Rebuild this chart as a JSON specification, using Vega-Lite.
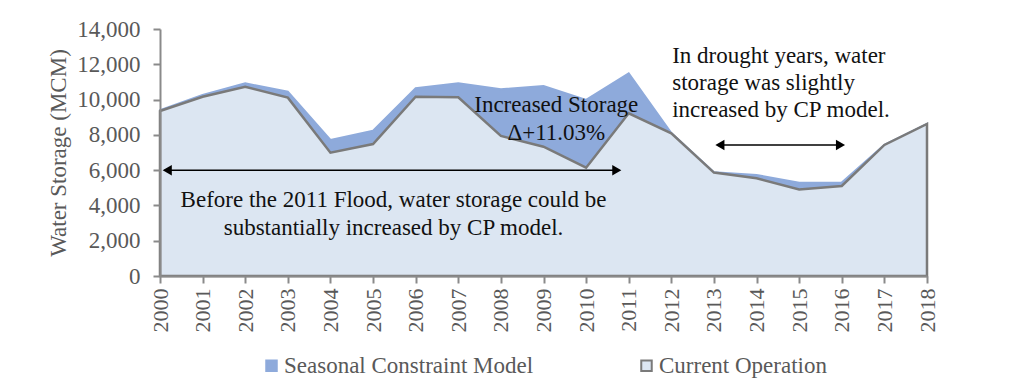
{
  "$schema": "https://vega.github.io/schema/vega-lite/v6.json",
  "width": 767,
  "height": 247,
  "autosize": {"type": "none"},
  "padding": {"left": 160, "top": 29, "right": 97, "bottom": 115},
  "background": "white",
  "config": {
    "view": {"stroke": null},
    "font": "Liberation Serif",
    "axis": {"grid": false, "domainColor": "#8a8a8a", "domainWidth": 2, "tickColor": "#8a8a8a", "tickWidth": 2, "tickSize": 7, "labelColor": "#595959", "titleColor": "#595959", "labelFont": "Liberation Serif", "titleFont": "Liberation Serif", "labelFontSize": 21, "labelFlush": false, "labelOverlap": false}
  },
  "datasets": {
    "storage": [
      {"year": 2000, "series": "Seasonal Constraint Model", "storage": 9400},
      {"year": 2001, "series": "Seasonal Constraint Model", "storage": 10260},
      {"year": 2002, "series": "Seasonal Constraint Model", "storage": 10920},
      {"year": 2003, "series": "Seasonal Constraint Model", "storage": 10450},
      {"year": 2004, "series": "Seasonal Constraint Model", "storage": 7710},
      {"year": 2005, "series": "Seasonal Constraint Model", "storage": 8240},
      {"year": 2006, "series": "Seasonal Constraint Model", "storage": 10640},
      {"year": 2007, "series": "Seasonal Constraint Model", "storage": 10920},
      {"year": 2008, "series": "Seasonal Constraint Model", "storage": 10580},
      {"year": 2009, "series": "Seasonal Constraint Model", "storage": 10770},
      {"year": 2010, "series": "Seasonal Constraint Model", "storage": 9980},
      {"year": 2011, "series": "Seasonal Constraint Model", "storage": 11490},
      {"year": 2012, "series": "Seasonal Constraint Model", "storage": 8100},
      {"year": 2013, "series": "Seasonal Constraint Model", "storage": 5880},
      {"year": 2014, "series": "Seasonal Constraint Model", "storage": 5730},
      {"year": 2015, "series": "Seasonal Constraint Model", "storage": 5290},
      {"year": 2016, "series": "Seasonal Constraint Model", "storage": 5300},
      {"year": 2017, "series": "Seasonal Constraint Model", "storage": 7430},
      {"year": 2018, "series": "Seasonal Constraint Model", "storage": 8620},
      {"year": 2000, "series": "Current Operation", "storage": 9350},
      {"year": 2001, "series": "Current Operation", "storage": 10160},
      {"year": 2002, "series": "Current Operation", "storage": 10730},
      {"year": 2003, "series": "Current Operation", "storage": 10110},
      {"year": 2004, "series": "Current Operation", "storage": 6990},
      {"year": 2005, "series": "Current Operation", "storage": 7480},
      {"year": 2006, "series": "Current Operation", "storage": 10160},
      {"year": 2007, "series": "Current Operation", "storage": 10130},
      {"year": 2008, "series": "Current Operation", "storage": 7940},
      {"year": 2009, "series": "Current Operation", "storage": 7330},
      {"year": 2010, "series": "Current Operation", "storage": 6140},
      {"year": 2011, "series": "Current Operation", "storage": 9220},
      {"year": 2012, "series": "Current Operation", "storage": 8090},
      {"year": 2013, "series": "Current Operation", "storage": 5860},
      {"year": 2014, "series": "Current Operation", "storage": 5540},
      {"year": 2015, "series": "Current Operation", "storage": 4910},
      {"year": 2016, "series": "Current Operation", "storage": 5100},
      {"year": 2017, "series": "Current Operation", "storage": 7430},
      {"year": 2018, "series": "Current Operation", "storage": 8620}
    ],
    "arrows": [
      {"x1": 2000.1, "x2": 2010.7, "y": 6000},
      {"x1": 2013.1, "x2": 2016.0, "y": 7430}
    ],
    "heads": [
      {"x": 2000.17, "y": 6000, "shape": "triangle-left"},
      {"x": 2010.72, "y": 6000, "shape": "triangle-right"},
      {"x": 2013.14, "y": 7430, "shape": "triangle-left"},
      {"x": 2015.97, "y": 7430, "shape": "triangle-right"}
    ],
    "centerNotes": [
      {"x": 2009.3, "y": 9300, "text": "Increased Storage\nΔ+11.03%"},
      {"x": 2005.48, "y": 3910, "text": "Before the 2011 Flood, water storage could be\nsubstantially increased by CP model."}
    ],
    "leftNotes": [
      {"x": 2012.02, "y": 12075, "text": "In drought years, water\nstorage was slightly\nincreased by CP model."}
    ]
  },
  "layer": [
    {
      "data": {"name": "storage"},
      "transform": [{"filter": "datum.series === 'Seasonal Constraint Model'"}],
      "mark": {"type": "area", "strokeWidth": 2, "opacity": 1, "fillOpacity": 1},
      "encoding": {
        "x": {"field": "year", "type": "quantitative", "scale": {"domain": [2000, 2018], "nice": false, "zero": false},
          "axis": {"title": null, "values": [2000,2001,2002,2003,2004,2005,2006,2007,2008,2009,2010,2011,2012,2013,2014,2015,2016,2017,2018], "tickCount": 30, "format": "d", "labelAngle": -90, "labelFontSize": 22, "labelPadding": 5, "labelOverlap": false, "labelFlush": false, "zindex": 1}},
        "y": {"field": "storage", "type": "quantitative", "stack": null, "scale": {"domain": [0, 14000], "nice": false},
          "axis": {"title": "Water Storage (MCM)", "titleFontSize": 23, "titleFontWeight": "normal", "titlePadding": 6, "values": [0,2000,4000,6000,8000,10000,12000,14000], "tickCount": 20, "format": ",d", "labelPadding": 13, "labelOverlap": false, "labelFlush": false, "labelFontSize": 23, "zindex": 1}},
        "fill": {"field": "series", "type": "nominal",
          "scale": {"domain": ["Seasonal Constraint Model", "Current Operation"], "range": ["#8eaadb", "#dce6f2"]},
          "legend": {"title": null, "orient": "none", "direction": "horizontal", "legendX": 100, "legendY": 325, "padding": 0, "symbolType": "square", "symbolSize": 110, "symbolStrokeWidth": 2, "labelFontSize": 23, "labelFont": "Liberation Serif", "labelColor": "#595959", "labelOffset": 1, "columnPadding": 101, "labelLimit": 400}},
        "stroke": {"field": "series", "type": "nominal",
          "scale": {"domain": ["Seasonal Constraint Model", "Current Operation"], "range": ["#8eaadb", "#7a7a7a"]},
          "legend": {"title": null, "orient": "none", "direction": "horizontal", "legendX": 100, "legendY": 325, "padding": 0, "symbolType": "square", "symbolSize": 110, "symbolStrokeWidth": 2, "labelFontSize": 23, "labelFont": "Liberation Serif", "labelColor": "#595959", "labelOffset": 1, "columnPadding": 101, "labelLimit": 400}}
      }
    },
    {
      "data": {"name": "storage"},
      "transform": [{"filter": "datum.series === 'Current Operation'"}],
      "mark": {"type": "area", "strokeWidth": 2.5, "opacity": 1, "fillOpacity": 1},
      "encoding": {
        "x": {"field": "year", "type": "quantitative"},
        "y": {"field": "storage", "type": "quantitative", "stack": null},
        "fill": {"field": "series", "type": "nominal"},
        "stroke": {"field": "series", "type": "nominal"}
      }
    },
    {
      "data": {"name": "arrows"},
      "mark": {"type": "rule", "color": "#000000", "strokeWidth": 1.5},
      "encoding": {
        "x": {"field": "x1", "type": "quantitative"},
        "x2": {"field": "x2"},
        "y": {"field": "y", "type": "quantitative"}
      }
    },
    {
      "data": {"name": "heads"},
      "mark": {"type": "point", "filled": true, "color": "#000000", "size": 110, "opacity": 1},
      "encoding": {
        "x": {"field": "x", "type": "quantitative"},
        "y": {"field": "y", "type": "quantitative"},
        "shape": {"field": "shape", "type": "nominal", "scale": null, "legend": null}
      }
    },
    {
      "data": {"name": "centerNotes"},
      "mark": {"type": "text", "align": "center", "baseline": "alphabetic", "lineBreak": "\n", "lineHeight": 28, "fontSize": 23, "font": "Liberation Serif", "color": "#111111"},
      "encoding": {
        "x": {"field": "x", "type": "quantitative"},
        "y": {"field": "y", "type": "quantitative"},
        "text": {"field": "text", "type": "nominal"}
      }
    },
    {
      "data": {"name": "leftNotes"},
      "mark": {"type": "text", "align": "left", "baseline": "alphabetic", "lineBreak": "\n", "lineHeight": 27, "fontSize": 23, "font": "Liberation Serif", "color": "#111111"},
      "encoding": {
        "x": {"field": "x", "type": "quantitative"},
        "y": {"field": "y", "type": "quantitative"},
        "text": {"field": "text", "type": "nominal"}
      }
    }
  ]
}
